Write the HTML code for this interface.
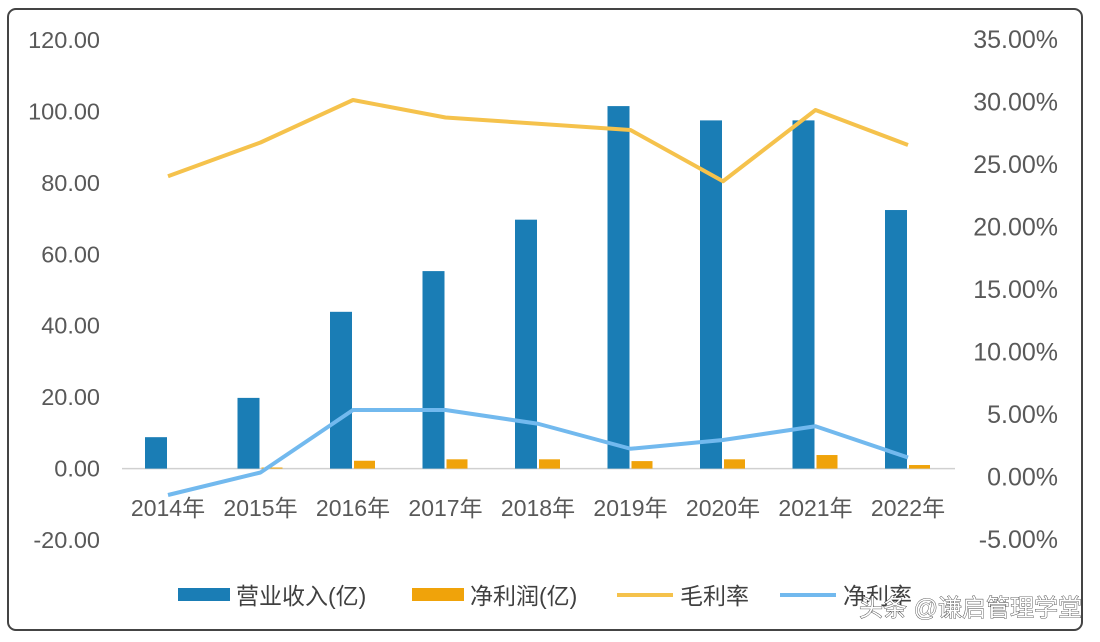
<!DOCTYPE html>
<html><head><meta charset="utf-8"><style>
body{margin:0;background:#fff;}
svg{display:block;font-family:"Liberation Sans","Noto Sans CJK SC",sans-serif;}
</style></head><body>
<svg id="chart" width="1100" height="642">
<rect x="8" y="9" width="1074" height="621" rx="8" fill="#fff" stroke="#444" stroke-width="2"/>
<g id="g"></g>
</svg>
<script>
const categories=["2014年","2015年","2016年","2017年","2018年","2019年","2020年","2021年","2022年"];
const revenue=[8.8,19.8,43.9,55.3,69.7,101.5,97.5,97.5,72.4];
const profit=[0,0.3,2.2,2.6,2.6,2.1,2.6,3.8,1.0];
const grossMargin=[24.1,26.8,30.2,28.8,28.3,27.8,23.7,29.4,26.6];
const netMargin=[-1.4,0.4,5.4,5.4,4.3,2.3,3.0,4.1,1.6];
const leftTicks=[120,100,80,60,40,20,0,-20];
const rightTicks=[35,30,25,20,15,10,5,0,-5];
const NS="http://www.w3.org/2000/svg";const g=document.getElementById('g');
const yL=v=>468.6-v*500/140;
const yR=v=>477.5-v*12.5;
const xC=i=>168+i*92.5;
function el(t,a,txt){const e=document.createElementNS(NS,t);for(const k in a)e.setAttribute(k,a[k]);if(txt!=null)e.textContent=txt;g.appendChild(e);return e;}
leftTicks.forEach(v=>{const e=el('text',{x:100,y:yL(v)+8,'text-anchor':'end','font-size':23.5,fill:'#595959'},v.toFixed(2));

});
rightTicks.forEach(v=>{const e=el('text',{x:1058,y:yR(v)+8,'text-anchor':'end','font-size':25,fill:'#595959'},v.toFixed(2)+'%');

});
const ax=el('line',{x1:122,x2:955,y1:yL(0),y2:yL(0),stroke:'#d0d0d0','stroke-width':1.5});


categories.forEach((c,i)=>{
const r=el('rect',{x:xC(i)-23,y:yL(revenue[i]),width:22,height:yL(0)-yL(revenue[i]),fill:'#1a7db5'});


const h=yL(0)-yL(profit[i]);
const p=el('rect',{x:xC(i)+1,y:yL(profit[i]),width:21,height:Math.max(h,0),fill:'#f0a30a'});


const t=el('text',{x:xC(i),y:516,'text-anchor':'middle','font-size':23,fill:'#595959'},c);


});
function line(arr,col,name){const pts=arr.map((v,i)=>xC(i)+','+yR(v)).join(' ');
const l=el('polyline',{points:pts,fill:'none',stroke:col,'stroke-width':4,'stroke-linejoin':'round'});

}
line(grossMargin,'#f5c24c','gross-margin-line');
line(netMargin,'#72b9ee','net-margin-line');
const leg=[['rect','#1a7db5','营业收入(亿)',178],['rect','#f0a30a','净利润(亿)',412],['line','#f5c24c','毛利率',617],['line','#72b9ee','净利率',780]];
leg.forEach(d=>{
if(d[0]==='rect'){const s=el('rect',{x:d[3],y:588,width:52,height:13,fill:d[1]});}
else{const s=el('line',{x1:d[3],x2:d[3]+56,y1:595,y2:595,stroke:d[1],'stroke-width':4});}
const t=el('text',{x:d[3]+(d[0]==='rect'?58:63),y:604,'font-size':23,fill:'#404040'},d[2]);


});
const w=el('text',{x:1082,y:616,'text-anchor':'end','font-size':24,fill:'#fff',stroke:'#333','stroke-width':0.8,'paint-order':'stroke'},'头条 @谦启管理学堂');


</script>
</body></html>
